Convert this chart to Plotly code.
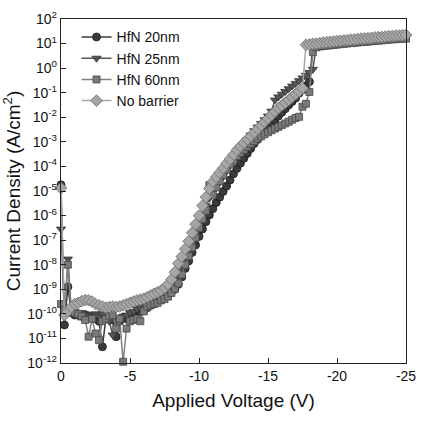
import plotly.graph_objects as go

# Applied voltage (V), 0 to -25 V in 0.25 V steps
voltage = [0.0, -0.25, -0.5, -0.75, -1.0, -1.25, -1.5, -1.75, -2.0, -2.25,
           -2.5, -2.75, -3.0, -3.25, -3.5, -3.75, -4.0, -4.25, -4.5, -4.75,
           -5.0, -5.25, -5.5, -5.75, -6.0, -6.25, -6.5, -6.75, -7.0, -7.25,
           -7.5, -7.75, -8.0, -8.25, -8.5, -8.75, -9.0, -9.25, -9.5, -9.75,
           -10.0, -10.25, -10.5, -10.75, -11.0, -11.25, -11.5, -11.75, -12.0, -12.25,
           -12.5, -12.75, -13.0, -13.25, -13.5, -13.75, -14.0, -14.25, -14.5, -14.75,
           -15.0, -15.25, -15.5, -15.75, -16.0, -16.25, -16.5, -16.75, -17.0, -17.25,
           -17.5, -17.75, -18.0, -18.25, -18.5, -18.75, -19.0, -19.25, -19.5, -19.75,
           -20.0, -20.25, -20.5, -20.75, -21.0, -21.25, -21.5, -21.75, -22.0, -22.25,
           -22.5, -22.75, -23.0, -23.25, -23.5, -23.75, -24.0, -24.25, -24.5, -24.75,
           -25.0]

# log10 of current density (A/cm^2)
log_j_hfn20 = [-4.75, -10.45, -8.9, -9.95, -10.05, -10.0, -10.1, -10.05, -10.15, -10.1,
               -10.2, -10.3, -11.34, -10.2, -10.1, -10.25, -10.93, -10.3, -10.15, -10.2,
               -10.1, -10.0, -9.95, -9.9, -9.85, -9.75, -9.65, -9.55, -9.45, -9.38,
               -9.3, -9.2, -9.1, -9.0, -8.8, -8.5, -8.15, -7.85, -7.5, -7.2,
               -6.85, -6.55, -6.25, -5.98, -5.72, -5.47, -5.25, -5.02, -4.8, -4.55,
               -4.3, -4.08, -3.87, -3.67, -3.47, -3.27, -3.07, -2.9, -2.73, -2.56,
               -2.4, -2.25, -2.1, -1.95, -1.8, -1.65, -1.5, -1.36, -1.22, -1.02,
               -0.88, -0.72, -0.55, 0.88, 0.93, 0.96, 0.99, 1.005, 1.02, 1.035,
               1.05, 1.065, 1.08, 1.095, 1.11, 1.12, 1.135, 1.15, 1.16, 1.17,
               1.185, 1.2, 1.21, 1.22, 1.235, 1.25, 1.26, 1.27, 1.28, 1.29,
               1.3]

log_j_hfn25 = [-6.55, -10.1, -7.77, -9.95, -10.0, -10.1, -9.95, -10.0, -10.05, -10.1,
               -10.0, -10.1, -10.0, -10.15, -10.3, -10.86, -10.3, -10.2, -10.1, -10.05,
               -9.95, -9.9, -9.8, -9.75, -9.7, -9.6, -9.5, -9.42, -9.35, -9.25,
               -9.15, -9.02, -8.85, -8.6, -8.3, -7.98, -7.65, -7.33, -7.0, -6.65,
               -6.3, -5.95, -5.6, -5.3, -5.05, -4.82, -4.6, -4.38, -4.15, -3.92,
               -3.7, -3.48, -3.27, -3.08, -2.9, -2.72, -2.55, -2.4, -2.25, -2.1,
               -1.95, -1.75, -1.3, -1.17, -1.06, -0.95, -0.84, -0.73, -0.62, -0.51,
               -0.4, -0.29, -0.18, -0.05, 0.9, 0.93, 0.96, 0.975, 0.99, 1.005,
               1.02, 1.035, 1.05, 1.065, 1.08, 1.09, 1.105, 1.12, 1.13, 1.14,
               1.155, 1.17, 1.18, 1.19, 1.205, 1.22, 1.23, 1.24, 1.25, 1.26,
               1.27]

log_j_hfn60 = [-9.6, -9.84, -8.0, -9.9, -9.95, -10.0, -10.1, -10.25, -10.93, -10.2,
               -10.8, -11.07, -10.3, -10.2, -10.1, -10.05, -10.6, -10.2, -11.95, -10.6,
               -10.3, -10.25, -10.2, -10.3, -9.9, -9.7, -9.65, -9.6, -9.55, -9.45,
               -9.4, -9.3, -9.15, -8.98, -8.76, -8.4, -8.0, -7.65, -7.3, -6.9,
               -6.5, -6.15, -5.8, -4.76, -5.15, -4.85, -4.6, -4.35, -4.12, -3.92,
               -3.75, -3.58, -3.45, -3.32, -3.2, -3.08, -2.97, -2.87, -2.78, -2.69,
               -2.61, -2.53, -2.46, -2.39, -2.32, -2.25, -2.18, -2.1, -2.03, -1.98,
               -1.57, -1.45, -0.97, 0.65, 0.85, 0.88, 0.9, 0.915, 0.93, 0.945,
               0.96, 0.975, 0.99, 1.005, 1.02, 1.03, 1.045, 1.06, 1.07, 1.08,
               1.095, 1.11, 1.12, 1.13, 1.145, 1.16, 1.17, 1.18, 1.19, 1.195,
               1.2]

log_j_nobarrier = [-4.88, -10.05, -9.9, -9.72, -9.6, -9.55, -9.48, -9.44, -9.45, -9.5,
                   -9.6, -9.65, -9.7, -9.75, -9.72, -9.7, -9.72, -9.7, -9.65, -9.6,
                   -9.55, -9.5, -9.45, -9.42, -9.38, -9.32, -9.25, -9.18, -9.12, -9.05,
                   -8.95, -8.8, -8.6, -8.3, -7.95, -7.67, -7.36, -7.05, -6.7, -6.35,
                   -6.0, -5.6, -5.25, -4.9, -4.62, -4.43, -4.25, -4.07, -3.88, -3.7,
                   -3.52, -3.33, -3.18, -3.04, -2.9, -2.76, -2.62, -2.48, -2.33, -2.19,
                   -2.05, -1.91, -1.77, -1.63, -1.52, -1.41, -1.3, -1.18, -1.06, -0.95,
                   -0.82, 0.95, 0.97, 0.99, 1.0, 1.02, 1.04, 1.055, 1.07, 1.085,
                   1.1, 1.115, 1.13, 1.145, 1.16, 1.17, 1.185, 1.2, 1.21, 1.22,
                   1.235, 1.25, 1.26, 1.27, 1.285, 1.3, 1.31, 1.32, 1.33, 1.34,
                   1.35]

series_names = ["HfN 20nm", "HfN 25nm", "HfN 60nm", "No barrier"]
series_logs = [log_j_hfn20, log_j_hfn25, log_j_hfn60, log_j_nobarrier]

y_tick_exps = list(range(-12, 3))
y_tick_vals = [10.0 ** e for e in y_tick_exps]
y_tick_text = [f"10<sup>{e}</sup>" for e in y_tick_exps]
x_tick_vals = [0, -5, -10, -15, -20, -25]
x_tick_text = ["0", "-5", "-10", "-15", "-20", "-25"]

styles = [
    dict(symbol="circle", fill="#3a3a3a", edge="#1a1a1a", line="#3a3a3a", size=8),
    dict(symbol="triangle-down", fill="#555555", edge="#303030", line="#555555", size=8),
    dict(symbol="square", fill="#7a7a7a", edge="#484848", line="#808080", size=7),
    dict(symbol="diamond", fill="#a6a6a6", edge="#6e6e6e", line="#a6a6a6", size=9),
]

fig = go.Figure()
for name, logs, st in zip(series_names, series_logs, styles):
    fig.add_trace(go.Scatter(
        x=voltage,
        y=[10.0 ** v for v in logs],
        mode="lines+markers",
        name=name,
        line=dict(color=st["line"], width=1.5),
        marker=dict(symbol=st["symbol"], size=st["size"], color=st["fill"],
                    line=dict(color=st["edge"], width=0.8)),
        cliponaxis=False,
    ))

font_family = "Liberation Sans, Arial, sans-serif"
fig.update_layout(
    width=421, height=422,
    margin=dict(l=61, r=15, t=19, b=59),
    paper_bgcolor="white",
    plot_bgcolor="white",
    font=dict(family=font_family, size=14, color="#111111"),
    showlegend=True,
    legend=dict(x=0.045, y=0.993, xanchor="left", yanchor="top",
                bgcolor="rgba(0,0,0,0)", font=dict(size=14, family=font_family),
                itemwidth=30, tracegroupgap=0),
    xaxis=dict(
        range=[0, -25], tickvals=x_tick_vals, ticktext=x_tick_text,
        ticks="inside", ticklen=5, tickwidth=1, tickcolor="#222222",
        showline=True, linecolor="#222222", linewidth=1.3, mirror=True,
        showgrid=False, zeroline=False, automargin=False,
        tickfont=dict(size=14),
        title=dict(text="Applied Voltage (V)", font=dict(size=19), standoff=10),
    ),
    yaxis=dict(
        type="log", range=[-12, 2], tickvals=y_tick_vals, ticktext=y_tick_text,
        ticks="inside", ticklen=5, tickwidth=1, tickcolor="#222222",
        showline=True, linecolor="#222222", linewidth=1.3, mirror=True,
        showgrid=False, zeroline=False, automargin=False,
        tickfont=dict(size=14),
        title=dict(text="Current Density (A/cm<sup>2</sup>)", font=dict(size=19), standoff=2),
    ),
)

fig.write_html("out.html")
